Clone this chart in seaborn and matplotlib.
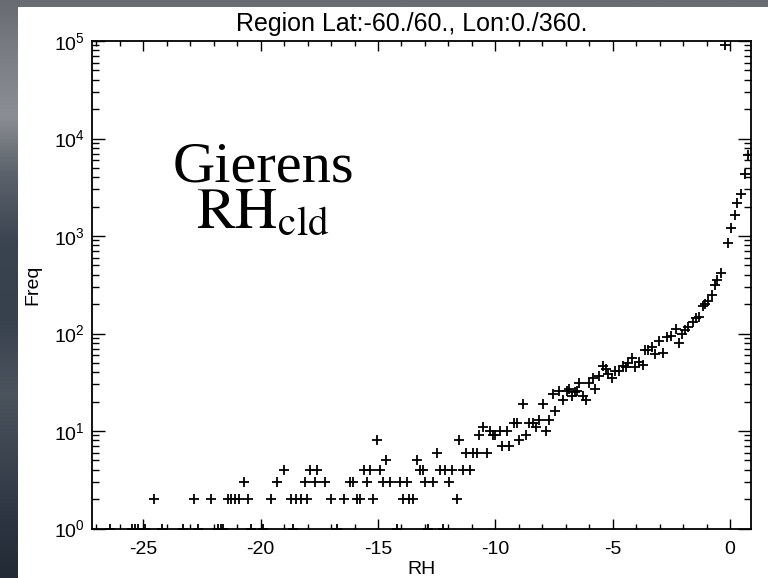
import numpy as np
import pandas as pd
import matplotlib
matplotlib.use("Agg")
import matplotlib.pyplot as plt
import seaborn as sns
from matplotlib.ticker import FixedLocator, MultipleLocator, LogLocator, NullFormatter
from matplotlib.colors import LinearSegmentedColormap
from matplotlib.patches import Rectangle

# ---------------- data ----------------
rh_count1 = [-26.43, -25.50, -25.36, -25.22, -24.94, -24.22, -23.30, -22.66, -21.81,
             -21.71, -21.60, -20.43, -19.89, -18.61, -16.76, -14.21, -12.86, -12.22]
rh_count2 = [-24.54, -22.83, -22.11, -21.40, -21.25, -21.08, -20.92, -20.56, -19.57,
             -18.70, -18.48, -18.27, -18.01, -17.02, -16.45, -15.91, -15.77, -15.20,
             -13.93, -13.67, -13.50, -11.65]
rh_count3 = [-20.72, -19.31, -18.10, -17.69, -17.26, -16.18, -16.06, -15.49, -14.79,
             -14.49, -14.07, -13.78, -12.98, -12.65, -11.96]
rh_count4 = [-19.01, -17.88, -17.59, -15.58, -15.35, -14.91, -13.21, -13.07, -12.36,
             -12.13, -11.85, -11.37, -11.08]
rh_count5 = [-14.64, -13.35]
rh_count6 = [-12.50, -11.25, -10.95, -10.78, -10.36]
rh_count8 = [-15.05, -11.53]

rh_curve = [-10.69, -10.54, -10.23, -10.09, -10.02, -9.80, -9.73, -9.52, -9.41, -9.21,
            -9.07, -8.99, -8.84, -8.70, -8.56, -8.41, -8.27, -8.13, -7.98, -7.84,
            -7.70, -7.56, -7.45, -7.29, -7.13, -6.96, -6.85, -6.72, -6.61, -6.53,
            -6.42, -6.25, -6.14, -6.01, -5.85, -5.74, -5.60, -5.43, -5.29, -5.19,
            -5.04, -4.90, -4.72, -4.57, -4.43, -4.34, -4.19, -4.05, -3.87, -3.72,
            -3.62, -3.48, -3.34, -3.20, -3.01, -2.84, -2.67, -2.53, -2.30, -2.16,
            -2.06, -1.92, -1.78, -1.59, -1.45, -1.31, -1.16, -1.07, -0.94, -0.78,
            -0.64, -0.54, -0.40, -0.21, -0.07, 0.03, 0.21, 0.31, 0.46, 0.64, 0.78]
freq_curve = [9, 11, 10, 9, 9, 10, 7, 10, 7, 12,
              12, 8, 19, 9, 12, 12, 11, 13, 19, 10,
              13, 24, 16, 26, 21, 26, 27, 23, 25, 26,
              31, 23, 21, 31, 35, 27, 37, 46, 43, 38,
              35, 41, 41, 46, 45, 50, 56, 45, 51, 48,
              67, 67, 73, 62, 84, 63, 91, 94, 110, 80,
              100, 109, 116, 132, 143, 149, 191, 200, 218, 249,
              315, 354, 421, 91800, 844, 1200, 1650, 2170, 2700, 4340, 6800]

title_text = "Region Lat:-60./60., Lon:0./360."
x_label = "RH"
y_label = "Freq"
x_ticks = [-25, -20, -15, -10, -5, 0]
x_tick_labels = ["-25", "-20", "-15", "-10", "-5", "0"]
y_ticks = [1e0, 1e1, 1e2, 1e3, 1e4, 1e5]
note_text = "Gierens\n" + r"$\mathrm{RH}_{\mathrm{cld}}$"

# ---------------- assemble table ----------------
tail = [(rh_count1, 1), (rh_count2, 2), (rh_count3, 3), (rh_count4, 4),
        (rh_count5, 5), (rh_count6, 6), (rh_count8, 8)]
rh_all, fr_all = [], []
for xs, c in tail:
    rh_all += list(xs)
    fr_all += [c] * len(xs)
rh_all += rh_curve
fr_all += freq_curve
df = pd.DataFrame({"RH": rh_all, "Freq": fr_all})

# ---------------- style ----------------
sns.set_theme(style="ticks")
plt.rcParams["font.family"] = ["Liberation Sans", "DejaVu Sans"]
plt.rcParams["mathtext.fontset"] = "custom"
plt.rcParams["mathtext.rm"] = "Liberation Sans"
plt.rcParams["mathtext.it"] = "Liberation Sans:italic"
plt.rcParams["mathtext.bf"] = "Liberation Sans:bold"
plt.rcParams["axes.unicode_minus"] = False

W, H = 768, 578
fig = plt.figure(figsize=(W / 100, H / 100), dpi=100)

# cloudy backdrop + white panel
bg = fig.add_axes([0, 0, 1, 1], zorder=-10)
sky = LinearSegmentedColormap.from_list(
    "sky", [(0.0, "#686b71"), (0.1, "#7c7f85"), (0.2, "#8b8e93"), (0.3, "#5b626b"),
            (0.42, "#3a4350"), (0.55, "#37414d"), (0.68, "#4b535d"), (0.8, "#3a434e"),
            (0.9, "#2c3541"), (1.0, "#222a35")])
bg.imshow(np.linspace(0, 1, 256).reshape(-1, 1), aspect="auto", cmap=sky,
          extent=[0, 1, 0, 1], origin="upper")
bg.add_patch(Rectangle((18 / W, 0), 1, 1 - 7 / H, facecolor="white", edgecolor="none"))
bg.set_xlim(0, 1)
bg.set_ylim(0, 1)
bg.set_axis_off()

ax = fig.add_axes([91.5 / W, 1 - 528.5 / H, (751 - 91.5) / W, (528.5 - 41) / H])
ax.set_facecolor("white")
sns.scatterplot(data=df, x="RH", y="Freq", marker="+", color="black", s=42,
                linewidth=1.3, ax=ax, legend=False)
ax.set_yscale("log")
ax.set_xlim(-27.21, 0.895)
ax.set_ylim(1, 1e5)

ax.xaxis.set_major_locator(FixedLocator(x_ticks))
ax.set_xticklabels(x_tick_labels)
ax.xaxis.set_minor_locator(MultipleLocator(1))
ax.yaxis.set_major_locator(FixedLocator(y_ticks))
ax.yaxis.set_minor_locator(LogLocator(base=10, subs=np.arange(2, 10)))
ax.yaxis.set_minor_formatter(NullFormatter())

ax.tick_params(axis="x", which="major", direction="in", length=7.2, width=1,
               top=True, bottom=True, labelsize=14, pad=9, colors="black")
ax.tick_params(axis="x", which="minor", direction="in", length=3.6, width=1,
               top=True, bottom=True, colors="black")
ax.tick_params(axis="y", which="major", direction="in", length=9.5, width=1,
               left=True, right=True, labelsize=14, pad=5, colors="black")
ax.tick_params(axis="y", which="minor", direction="in", length=4.7, width=1,
               left=True, right=True, colors="black")
for sp in ax.spines.values():
    sp.set_visible(True)
    sp.set_color("black")
    sp.set_linewidth(1.3)

ax.set_xlabel(x_label, fontsize=14, color="black")
ax.set_ylabel(y_label, fontsize=14, color="black")
ax.xaxis.set_label_coords(0.5, (528.5 - 570) / 487.5)
ax.xaxis.label.set_va("center")
ax.yaxis.set_label_coords((33 - 91.5) / 659.5, 0.5)
ax.yaxis.label.set_va("center")

fig.text(412 / W, 1 - 31 / H, title_text, fontsize=18, color="black",
         ha="center", va="baseline")

fig.text(263 / W, 1 - 141 / H, note_text, family="Liberation Serif",
         math_fontfamily="stix", fontsize=42, ha="center", va="top",
         multialignment="center", linespacing=0.88, color="black")

fig.savefig("out.png", dpi=100)
